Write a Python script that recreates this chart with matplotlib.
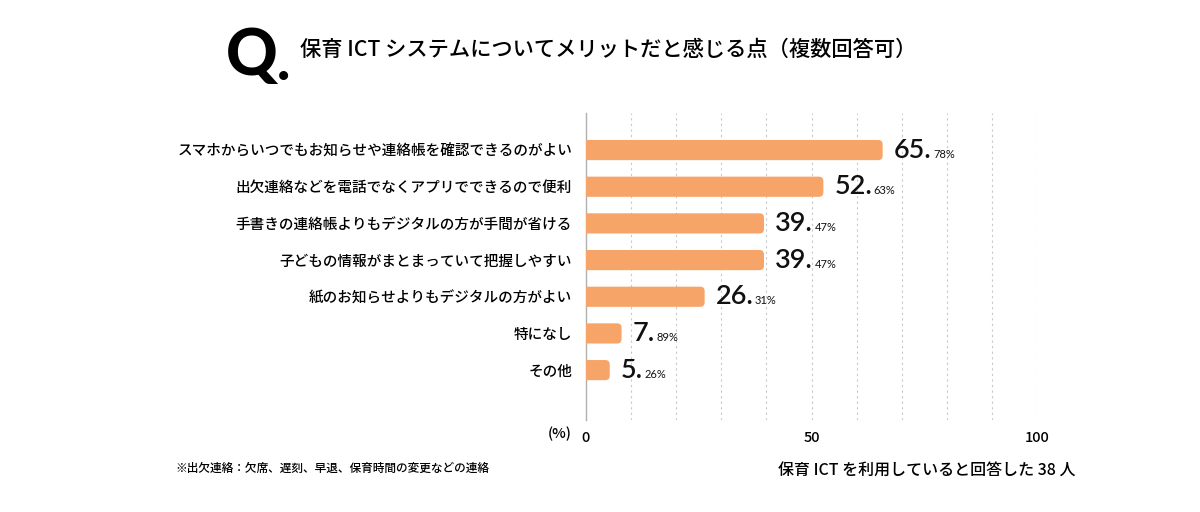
import numpy as np
import matplotlib
matplotlib.use("Agg")
import matplotlib.pyplot as plt
from matplotlib.patches import FancyBboxPatch

plt.rcParams['font.family'] = ['Noto Sans CJK JP', 'DejaVu Sans']

# data
labels = [
    'スマホからいつでもお知らせや連絡帳を確認できるのがよい',
    '出欠連絡などを電話でなくアプリでできるので便利',
    '手書きの連絡帳よりもデジタルの方が手間が省ける',
    '子どもの情報がまとまっていて把握しやすい',
    '紙のお知らせよりもデジタルの方がよい',
    '特になし',
    'その他',
]
values = [65.78, 52.63, 39.47, 39.47, 26.31, 7.89, 5.26]
xticks = [0, 50, 100]

bar_color = '#F7A468'

fig = plt.figure(figsize=(12, 5.12), dpi=100)
ax = fig.add_axes([586/1200, 1 - 420/512, (1037-586)/1200, (420-113)/512])

y = np.arange(len(labels))
bars = ax.barh(y, values, height=0.55, color=bar_color)

ylo, yhi = -1.01, 7.36
px_x = (1037 - 586) / 100.0
px_y = (420 - 113) / (yhi - ylo)
# swap plain bars for rounded ones
for b in bars:
    b.set_visible(False)
    x0, y0 = b.get_x(), b.get_y()
    w, h = b.get_width(), b.get_height()
    p = FancyBboxPatch((x0 - 3, y0), w + 3, h,
                       boxstyle='round,pad=0,rounding_size=1.0',
                       mutation_aspect=px_x / px_y,
                       fc=bar_color, ec='none', zorder=3)
    ax.add_patch(p)

ax.set_xlim(0, 100)
ax.set_ylim(yhi, ylo)

ax.set_xticks(xticks)
ax.xaxis.set_minor_locator(matplotlib.ticker.MultipleLocator(10))
ax.grid(axis='x', which='both', linestyle=(0, (2, 3)), color='#c8c8c8', linewidth=0.8, zorder=0)
ax.tick_params(axis='x', which='both', length=0, pad=8, labelsize=10.5)
for t in ax.get_xticklabels():
    t.set_fontweight('medium')

ax.set_yticks(y)
ax.set_yticklabels(labels, fontsize=10.5, fontweight='medium')
ax.tick_params(axis='y', length=0, pad=10)

for s in ['top', 'right', 'bottom']:
    ax.spines[s].set_visible(False)
ax.spines['left'].set_color('#b0b0b0')
ax.spines['left'].set_linewidth(1.0)

# value labels: large integer part, small decimals
for yi, v in zip(y, values):
    ip, dp = f'{v:.2f}'.split('.')
    big = ax.annotate(ip + '.', xy=(v, yi), xytext=(8, 0), textcoords='offset points',
                      ha='left', va='center', fontsize=19.5, fontfamily=['Lato', 'DejaVu Sans'],
                      fontweight='semibold', color='#111111')
    ax.annotate(dp + '%', xy=(1, 0.2), xycoords=big, xytext=(1, 0), textcoords='offset points',
                ha='left', va='baseline', fontsize=8, fontfamily=['Lato', 'DejaVu Sans'],
                color='#111111')

fig.text(572/1200, 1 - 434/512, '(%)', ha='right', va='center', fontsize=10.5, fontweight='medium')

# titles / notes
fig.text(226/1200, 1 - 56/512, 'Q', ha='left', va='center', fontsize=46, fontweight='black',
         fontfamily=['Lato', 'DejaVu Sans'])
fig.text(277/1200, 1 - 64/512, '.', ha='left', va='center', fontsize=40, fontweight='black',
         fontfamily=['Lato', 'DejaVu Sans'])
fig.text(300/1200, 1 - 50/512, '保育 ICT システムについてメリットだと感じる点（複数回答可）',
         ha='left', va='center', fontsize=15.3, fontweight='medium')
fig.text(175/1200, 1 - 468/512, '※出欠連絡：欠席、遅刻、早退、保育時間の変更などの連絡',
         ha='left', va='center', fontsize=8.4, fontweight='medium')
fig.text(1075/1200, 1 - 470/512, '保育 ICT を利用していると回答した 38 人',
         ha='right', va='center', fontsize=11.5, fontweight='medium')

fig.savefig('out.png', dpi=100)
